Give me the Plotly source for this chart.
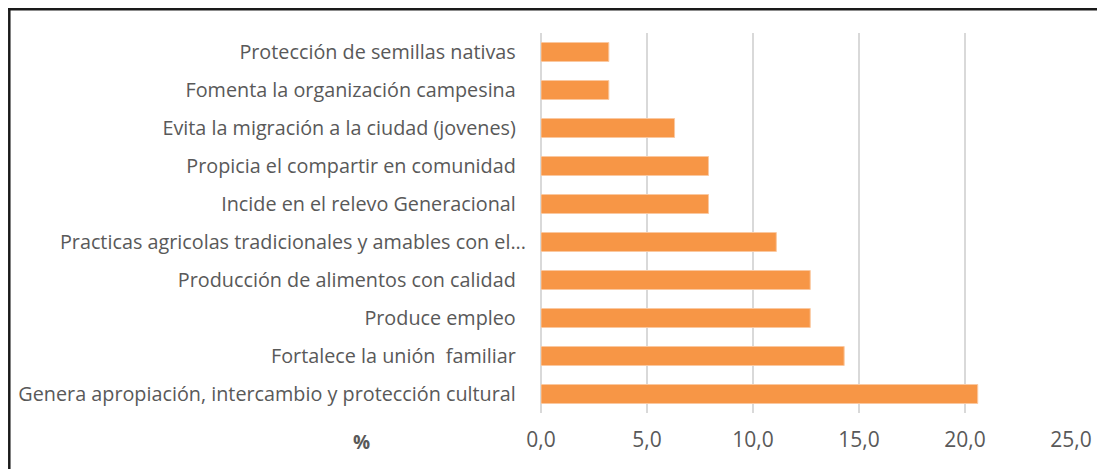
import plotly.graph_objects as go

# Data (top to bottom as shown)
NB = "\u00a0\u00a0"
categories = [
    "Protección de semillas nativas" + NB,
    "Fomenta la organización campesina" + NB,
    "Evita la migración a la ciudad (jovenes)" + NB,
    "Propicia el compartir en comunidad" + NB,
    "Incide en el relevo Generacional" + NB,
    "Practicas agricolas tradicionales y amables con el...",
    "Producción de alimentos con calidad" + NB,
    "Produce empleo" + NB,
    "Fortalece la unión  familiar" + NB,
    "Genera apropiación, intercambio y protección cultural" + NB,
]
values = [3.2, 3.2, 6.3, 7.9, 7.9, 11.1, 12.7, 12.7, 14.3, 20.6]
x_ticks = [0, 5, 10, 15, 20, 25]

# page body has an 8px margin: figure is sized/placed to compensate
W, H = 1097, 461
L, R, T, B = 533, 34, 25, 56

fig = go.Figure()
fig.add_trace(go.Bar(
    y=categories, x=values, orientation="h",
    marker=dict(color="#F79646", line=dict(color="#FAC8A0", width=1)),
    hoverinfo="x+y",
))

lab_font = dict(family="Open Sans", size=19.8, color="#595959")
tick_font = dict(family="Open Sans", size=21, color="#595959")

fig.update_layout(
    width=W, height=H,
    margin=dict(l=L, r=R, t=T, b=B, pad=0, autoexpand=False),
    paper_bgcolor="white", plot_bgcolor="white",
    separators=", ",
    bargap=0.5,
    showlegend=False,
    font=lab_font,
    xaxis=dict(
        range=[0, 25], tickvals=x_ticks, tickformat=".1f",
        showgrid=True, gridcolor="#D9D9D9", gridwidth=1.5,
        zeroline=True, zerolinecolor="#D9D9D9", zerolinewidth=1.5,
        showline=False, ticks="outside", ticklen=8, tickcolor="rgba(0,0,0,0)",
        tickfont=tick_font, fixedrange=True, automargin=False,
    ),
    yaxis=dict(
        autorange="reversed", type="category",
        showgrid=False, zeroline=False, showline=False,
        ticks="outside", ticklen=10, tickcolor="rgba(0,0,0,0)",
        tickfont=lab_font, fixedrange=True, automargin=False,
    ),
)

pw = W - L - R
ph = H - T - B
OFF = 8
def px_x(x):
    return (x - OFF - L) / pw
def px_y(y):
    return 1 - (y - OFF - T) / ph

# frame (top and left edges)
fig.add_shape(type="line", xref="paper", yref="paper",
              x0=px_x(8), x1=px_x(1110), y0=px_y(9.3), y1=px_y(9.3),
              line=dict(color="#1a1a1a", width=2.5))
fig.add_shape(type="line", xref="paper", yref="paper",
              x0=px_x(9.3), x1=px_x(9.3), y0=px_y(8), y1=px_y(475),
              line=dict(color="#1a1a1a", width=2.5))

fig.add_annotation(text="<b>%</b>", xref="paper", yref="paper",
                   x=px_x(361), y=px_y(442), showarrow=False,
                   xanchor="center", yanchor="middle",
                   font=dict(family="Open Sans", size=19, color="#595959"))

fig.write_html("out.html")
